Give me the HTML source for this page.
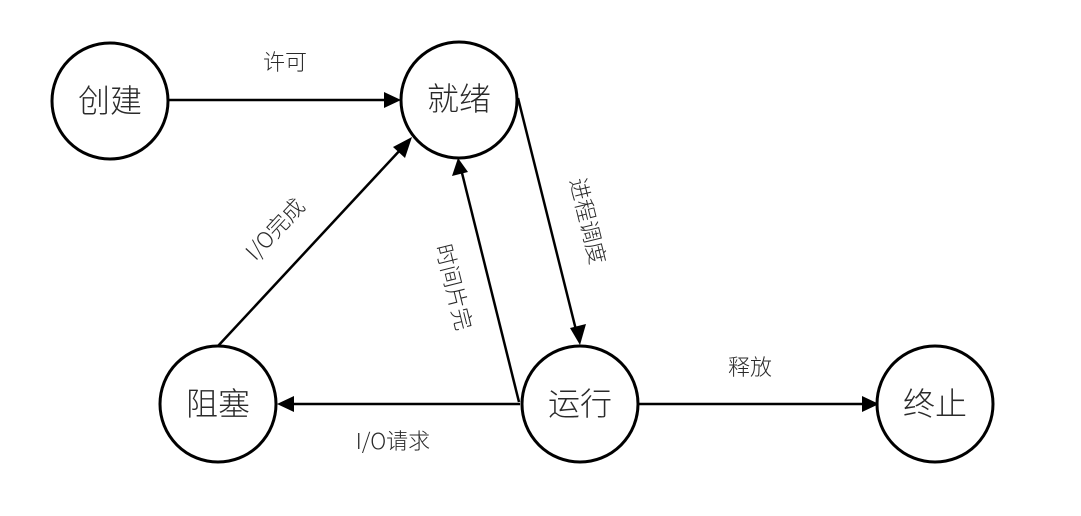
<!DOCTYPE html>
<html><head><meta charset="utf-8"><style>
html,body{margin:0;padding:0;background:#fff;}
svg{display:block;}
text{font-family:"Noto Sans CJK SC","Liberation Sans",sans-serif;fill:#2a2a2a;font-weight:300;}
.n{font-size:32px;}
.l{font-size:22px;}
</style></head><body>
<svg width="1081" height="516" viewBox="0 0 1081 516" xmlns="http://www.w3.org/2000/svg">
<g fill="#fff" stroke="#000" stroke-width="3">
<circle cx="110" cy="101" r="58"/>
<circle cx="459" cy="100" r="58"/>
<circle cx="218" cy="404" r="58"/>
<circle cx="580" cy="404" r="58"/>
<circle cx="935" cy="404" r="58"/>
</g>
<g stroke="#000" stroke-width="2.5" fill="none">
<line x1="168" y1="100" x2="386" y2="100"/>
<line x1="218" y1="346" x2="402" y2="148"/>
<line x1="519" y1="402" x2="462" y2="173"/>
<line x1="518" y1="98" x2="576" y2="330"/>
<line x1="520" y1="404" x2="292" y2="404"/>
<line x1="638" y1="404" x2="864" y2="404"/>
</g>
<g fill="#000">
<polygon points="401,100 384,92 384,108"/>
<polygon points="412,137 393,147 405,158"/>
<polygon points="458,158 452,176 468,172"/>
<polygon points="580,345 570,328 586,324"/>
<polygon points="277,404 294,396 294,412"/>
<polygon points="879,404 862,396 862,412"/>
</g>
<g class="n" text-anchor="middle">
<text x="110" y="112">创建</text>
<text x="459" y="110">就绪</text>
<text x="218" y="415">阻塞</text>
<text x="580" y="415">运行</text>
<text x="935" y="415">终止</text>
</g>
<g class="l" text-anchor="middle">
<text x="285" y="70">许可</text>
<text x="393" y="449">I/O请求</text>
<text x="750" y="375">释放</text>
<text transform="translate(275,229) rotate(-47)" y="8">I/O完成</text>
<text transform="translate(588,221) rotate(76)" y="8">进程调度</text>
<text transform="translate(454,287) rotate(76)" y="8">时间片完</text>
</g>
</svg>
</body></html>
